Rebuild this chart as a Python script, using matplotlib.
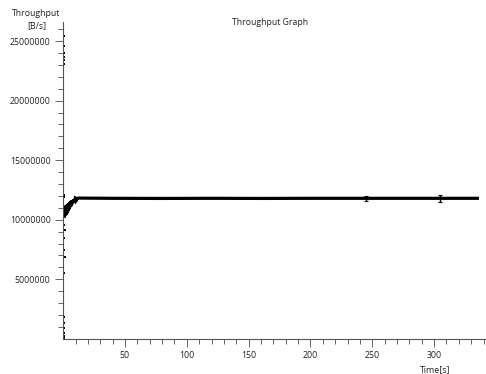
import matplotlib
matplotlib.use("Agg")
import matplotlib.pyplot as plt
from matplotlib.ticker import FixedLocator, FuncFormatter

plt.rcParams['font.family'] = ['Open Sans', 'DejaVu Sans']

# Main throughput trace (seconds, bytes/s): startup ramp then steady state
time_s = [1.0, 1.25, 1.5, 1.75, 2.0, 2.25, 2.5, 2.75, 3.0, 3.25, 3.5, 3.75,
          4.0, 4.25, 4.5, 4.75, 5.0, 5.25, 5.5, 5.75, 6.0, 6.25, 6.5, 6.75,
          7.0, 7.25, 7.5, 7.75, 8.0, 8.5, 9.0, 9.5, 10.0, 10.5, 11.0, 11.5,
          12.0, 40.0, 80.0, 120.0, 160.0, 200.0, 245.0, 280.0, 305.0, 335.0]
throughput = [10300000, 11000000, 10350000, 11150000, 10400000, 11200000,
              10450000, 11200000, 10550000, 11250000, 10650000, 11300000,
              10750000, 11350000, 10850000, 11400000, 10950000, 11450000,
              11050000, 11500000, 11100000, 11550000, 11200000, 11600000,
              11300000, 11600000, 11350000, 11650000, 11450000, 11700000,
              11500000, 11700000, 11600000, 11750000, 11700000, 11800000,
              11820000, 11800000, 11790000, 11800000, 11790000, 11800000,
              11800000, 11800000, 11800000, 11800000]

# Short excursions around the steady rate
spike_t = [245.0, 305.0]
spike_lo = [11550000, 11500000]
spike_hi = [11970000, 12100000]

# Isolated samples at connection start
burst_t = [1.0, 1.0, 1.0, 1.0, 1.0, 1.0, 0.8, 0.8, 1.0, 1.1, 1.0, 1.0,
           1.1, 1.0, 1.0, 1.0, 1.0, 1.0, 1.0, 1.0]
burst_v = [25400000, 24600000, 24000000, 23700000, 23400000, 23100000,
           12100000, 11950000, 9540000, 9120000, 8450000, 7440000,
           6850000, 5500000, 1800000, 1300000, 900000, 500000, 250000, 50000]

x_major = [50, 100, 150, 200, 250, 300]
x_minor = [10, 20, 30, 40, 60, 70, 80, 90, 110, 120, 130, 140, 160, 170, 180,
           190, 210, 220, 230, 240, 260, 270, 280, 290, 310, 320, 330, 340]
y_major = [5000000, 10000000, 15000000, 20000000, 25000000]
y_minor = [m * 1000000 for m in (1, 2, 3, 4, 6, 7, 8, 9, 11, 12, 13, 14,
                                 16, 17, 18, 19, 21, 22, 23, 24, 26)]

x_label = "Time[s]"
y_label = "Throughput\n[B/s]"
title = "Throughput Graph"

fig = plt.figure(figsize=(4.86, 3.74), dpi=100)
ax = fig.add_axes([0.13, 0.094, 0.87, 0.847])

ax.plot(time_s, throughput, color="black", lw=2.3, solid_joinstyle="miter")
ax.vlines(spike_t, spike_lo, spike_hi, color="black", lw=1.0)
ax.scatter(spike_t, spike_lo, s=6, marker="_", color="black", linewidths=0.8)
ax.scatter(spike_t, spike_hi, s=6, marker="_", color="black", linewidths=0.8)
ax.scatter(burst_t, burst_v, s=4.5, marker="s", color="black", linewidths=0)

ax.set_xlim(0, 342)
ax.set_ylim(0, 26600000)

for side in ("top", "right"):
    ax.spines[side].set_visible(False)
for side in ("left", "bottom"):
    ax.spines[side].set_color("#555555")
    ax.spines[side].set_linewidth(0.8)

ax.xaxis.set_major_locator(FixedLocator(x_major))
ax.xaxis.set_minor_locator(FixedLocator(x_minor))
ax.yaxis.set_major_locator(FixedLocator(y_major))
ax.yaxis.set_minor_locator(FixedLocator(y_minor))

ax.xaxis.set_major_formatter(FuncFormatter(lambda v, p: f"{int(v)}"))
ax.yaxis.set_major_formatter(FuncFormatter(lambda v, p: f"{int(v)}"))

ax.tick_params(axis="both", which="major", length=6, width=0.7, color="#666666",
               labelsize=6.3, labelcolor="#222222", pad=3)
ax.tick_params(axis="both", which="minor", length=3.5, width=0.7, color="#666666")
for lbl in ax.get_xticklabels() + ax.get_yticklabels():
    lbl.set_fontweight("medium")

fig.text(0.556, 0.941, title, ha="center", va="center", fontsize=6.3,
         color="#222222", fontweight="medium")
fig.text(0.075, 0.948, y_label, ha="center", va="center", fontsize=6.3,
         color="#222222", linespacing=1.5, fontweight="medium")
fig.text(0.895, 0.013, x_label, ha="center", va="center", fontsize=6.3,
         color="#222222", fontweight="medium")

fig.savefig("out.png", dpi=100)
